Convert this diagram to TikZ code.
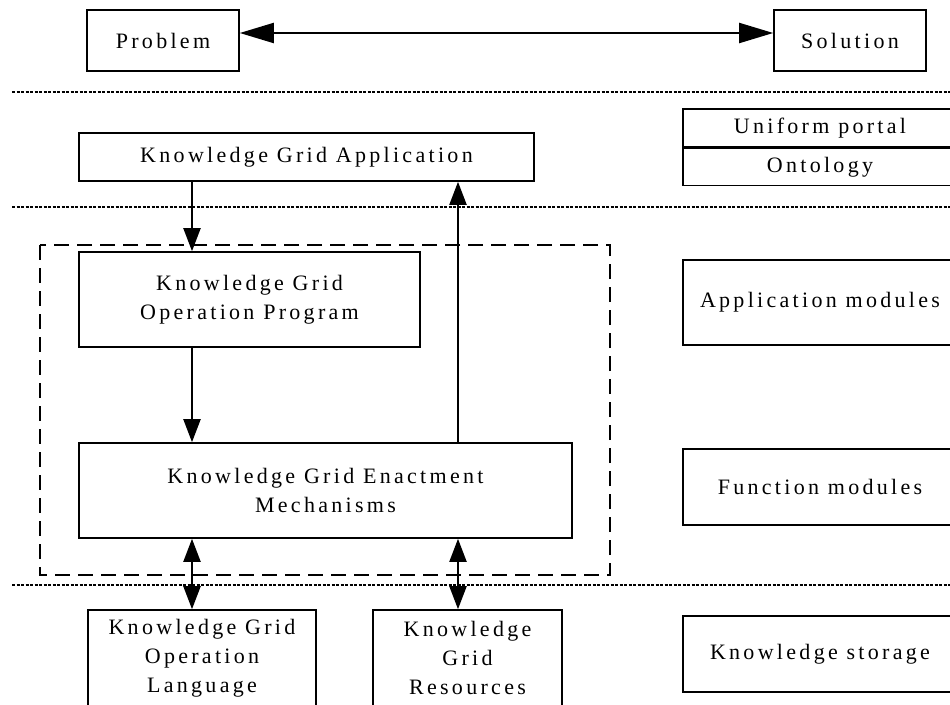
\documentclass[tikz,border=0pt]{standalone}
\usepackage{fontspec}
\setmainfont{Liberation Serif}[LetterSpace=15]
\usetikzlibrary{arrows.meta}

\tikzset{
  box/.style={draw=black,line width=1.6pt,rectangle,inner sep=0pt,align=center,
    font=\fontsize{22}{29}\selectfont},
  arr/.style={line width=2pt,-{Triangle[length=23pt,width=17pt]}},
  dblarr/.style={line width=2pt,{Triangle[length=23pt,width=17pt]}-{Triangle[length=23pt,width=17pt]}},
  wide/.style={line width=2pt,{Triangle[length=34pt,width=20pt]}-{Triangle[length=34pt,width=20pt]}},
  sepline/.style={line width=2pt,dash pattern=on 3pt off 1.5pt},
  group/.style={line width=2.4pt,dash pattern=on 15pt off 8pt},
}

\begin{document}
\begin{tikzpicture}[x=1pt,y=-1pt]
\useasboundingbox (0,0) rectangle (950,704);
\clip (0,0) rectangle (950,704);

% layer separators:
\draw[sepline] (12,92) -- (950,92);
\draw[sepline] (12,207) -- (950,207);
\draw[sepline] (12,585) -- (950,585);

% problem and solution:
\node[box,minimum width=152pt,minimum height=61pt] (prob) at (163,40.5) {Problem};
\node[box,minimum width=152pt,minimum height=61pt] (sol) at (850,40.5) {Solution};
\draw[wide] ([yshift=7.5pt]prob.east) -- ([yshift=7.5pt]sol.west);

% left column:
\node[box,minimum width=455pt,minimum height=48pt] (app) at (306.5,157) {Knowledge Grid Application};
\node[box,minimum width=341pt,minimum height=95pt] (op) at (249.5,299.5) {Knowledge Grid\\Operation Program};
\node[box,minimum width=493pt,minimum height=95pt] (enact) at (325.5,490.5) {Knowledge Grid Enactment\\Mechanisms};
\node[box,minimum width=228pt,minimum height=96pt] (kgol) at (202,658) {Knowledge Grid\\Operation\\Language};
\node[box,minimum width=189pt,minimum height=96pt] (kgr) at (467.5,658) {Knowledge\\Grid\\Resources};
\draw[group] (40,245) rectangle (610,575);

% right column:
\node[box,minimum width=274pt,minimum height=38pt] (uni) at (820,128) {Uniform portal};
\node[box,minimum width=274pt,minimum height=37pt,anchor=north] (onto) at (uni.south) {Ontology};
\node[box,minimum width=274pt,minimum height=85pt] (appmod) at (820,302.5) {Application modules};
\node[box,minimum width=274pt,minimum height=76pt] (funmod) at (820,487) {Function modules};
\node[box,minimum width=274pt,minimum height=76pt] (store) at (820,654) {Knowledge storage};

% connectors:
\coordinate (xl) at (192,0);
\coordinate (xr) at (458,0);
\draw[arr] (app.south -| xl) -- (op.north -| xl);
\draw[arr] (op.south -| xl) -- (enact.north -| xl);
\draw[arr] (enact.north -| xr) -- (app.south -| xr);
\draw[dblarr] (enact.south -| xl) -- (kgol.north -| xl);
\draw[dblarr] (enact.south -| xr) -- (kgr.north -| xr);

\end{tikzpicture}
\end{document}
